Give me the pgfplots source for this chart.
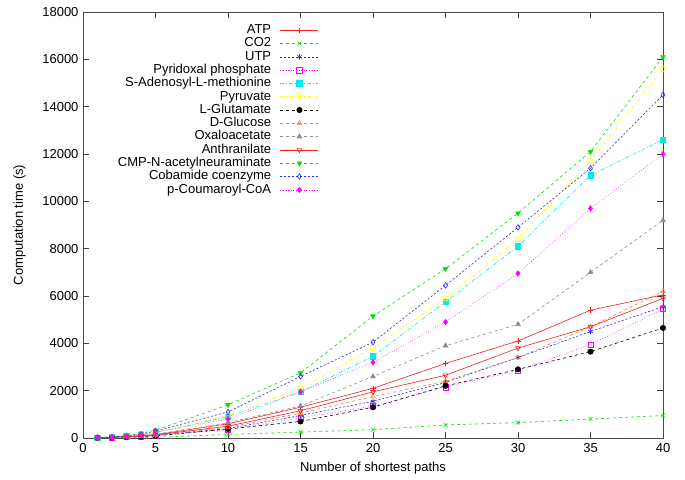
\documentclass[border=0pt]{standalone}
\usepackage{fontspec}
\setmainfont{Liberation Sans}
\usepackage{pgfplots}
\pgfplotsset{compat=1.18}
\definecolor{gred}{RGB}{240,30,30}
\definecolor{ggreen}{RGB}{0,225,0}
\definecolor{gblue}{RGB}{40,40,235}
\definecolor{gmag}{RGB}{255,0,255}
\definecolor{gcyan}{RGB}{0,235,235}
\definecolor{gyellow}{RGB}{255,255,0}
\definecolor{gorange}{RGB}{255,120,60}
\definecolor{ggray}{RGB}{140,140,140}
\begin{document}
\begin{tikzpicture}
\begin{axis}[
  scale only axis,
  width=580pt, height=426pt,
  xmin=0, xmax=40, ymin=0, ymax=18000,
  xtick={0,5,...,40},
  ytick={0,2000,...,18000},
  scaled y ticks=false,
  /pgf/number format/1000 sep={},
  /pgf/number format/assume math mode=true,
  tick align=inside,
  major tick length=6pt,
  tick style={black!75, line width=0.8pt},
  axis line style={black!70, line width=0.9pt},
  font=\fontsize{13}{15}\selectfont,
  ticklabel style={font=\fontsize{13}{15}\selectfont},
  xticklabel style={yshift=-2pt},
  yticklabel style={xshift=-1pt},
  xlabel={Number of shortest paths},
  ylabel={Computation time (s)},
  xlabel style={yshift=-2pt},
  ylabel style={yshift=10pt},
  every axis plot/.append style={line width=0.6pt, mark size=2.7pt, mark options={solid}},
  legend cell align=right,
  legend plot pos=right,
  legend style={draw=none, fill=none, at={(0.412,0.978)}, anchor=north east,
    font=\fontsize{13}{15}\selectfont, row sep=0pt,
    nodes={inner sep=0pt, text height=10pt, text depth=3.3pt},
    /tikz/every odd column/.append style={column sep=9pt}},
  legend image code/.code={\draw[mark repeat=2,mark phase=2] plot coordinates {(0pt,0pt) (19pt,0pt) (38pt,0pt)};},
]
\addplot[gred, mark=+] coordinates {(1,10)(2,30)(3,60)(4,100)(5,140)(10,600)(15,1300)(20,2100)(25,3150)(30,4100)(35,5400)(40,6050)};
\addlegendentry{ATP}
\addplot[ggreen, dashed, mark=x] coordinates {(1,5)(2,10)(3,15)(4,20)(5,30)(10,150)(15,250)(20,350)(25,550)(30,650)(35,800)(40,950)};
\addlegendentry{CO2}
\addplot[gblue, dash pattern=on 2pt off 2pt, mark=asterisk] coordinates {(1,10)(2,25)(3,50)(4,80)(5,110)(10,400)(15,950)(20,1550)(25,2350)(30,3400)(35,4500)(40,5550)};
\addlegendentry{UTP}
\addplot[gmag, dotted, mark=square] coordinates {(1,8)(2,20)(3,45)(4,70)(5,100)(10,350)(15,850)(20,1350)(25,2150)(30,2850)(35,3950)(40,5450)};
\addlegendentry{Pyridoxal phosphate}
\addplot[gcyan, dash pattern=on 4pt off 2pt on 1pt off 2pt, mark=square*] coordinates {(1,15)(2,40)(3,80)(4,130)(5,230)(10,900)(15,1950)(20,3450)(25,5750)(30,8100)(35,11100)(40,12600)};
\addlegendentry{S-Adenosyl-L-methionine}
\addplot[gyellow, dash pattern=on 4pt off 2pt on 1pt off 2pt, mark=o] coordinates {(1,15)(2,40)(3,80)(4,130)(5,220)(10,950)(15,2100)(20,3800)(25,5900)(30,8400)(35,11700)(40,15600)};
\addlegendentry{Pyruvate}
\addplot[black, dashed, mark=*] coordinates {(1,8)(2,20)(3,40)(4,60)(5,90)(10,380)(15,700)(20,1300)(25,2200)(30,2900)(35,3650)(40,4650)};
\addlegendentry{L-Glutamate}
\addplot[gorange, dashed, mark=triangle] coordinates {(1,10)(2,25)(3,50)(4,80)(5,120)(10,450)(15,1050)(20,1750)(25,2400)(30,3400)(35,4700)(40,6200)};
\addlegendentry{D-Glucose}
\addplot[ggray, dashed, mark=triangle*] coordinates {(1,12)(2,30)(3,60)(4,100)(5,160)(10,650)(15,1350)(20,2600)(25,3900)(30,4800)(35,7000)(40,9200)};
\addlegendentry{Oxaloacetate}
\addplot[gred, mark=triangle, mark options={solid, rotate=180}] coordinates {(1,10)(2,28)(3,55)(4,90)(5,130)(10,500)(15,1150)(20,1950)(25,2650)(30,3800)(35,4700)(40,5900)};
\addlegendentry{Anthranilate}
\addplot[ggreen, dashed, mark=triangle*, mark options={solid, rotate=180}] coordinates {(1,20)(2,50)(3,100)(4,200)(5,330)(10,1400)(15,2750)(20,5150)(25,7150)(30,9500)(35,12100)(40,16100)};
\addlegendentry{CMP-N-acetylneuraminate}
\addplot[gblue, dash pattern=on 2pt off 2pt, mark=diamond] coordinates {(1,18)(2,45)(3,90)(4,160)(5,300)(10,1100)(15,2600)(20,4050)(25,6450)(30,8900)(35,11400)(40,14500)};
\addlegendentry{Cobamide coenzyme}
\addplot[gmag, dotted, mark=diamond*] coordinates {(1,15)(2,40)(3,80)(4,130)(5,250)(10,800)(15,1950)(20,3200)(25,4900)(30,6950)(35,9700)(40,12000)};
\addlegendentry{p-Coumaroyl-CoA}
\end{axis}
\useasboundingbox ([shift={(-83pt,-41pt)}]current axis.south west) rectangle ([shift={(22pt,12pt)}]current axis.north east);
\end{tikzpicture}
\end{document}
